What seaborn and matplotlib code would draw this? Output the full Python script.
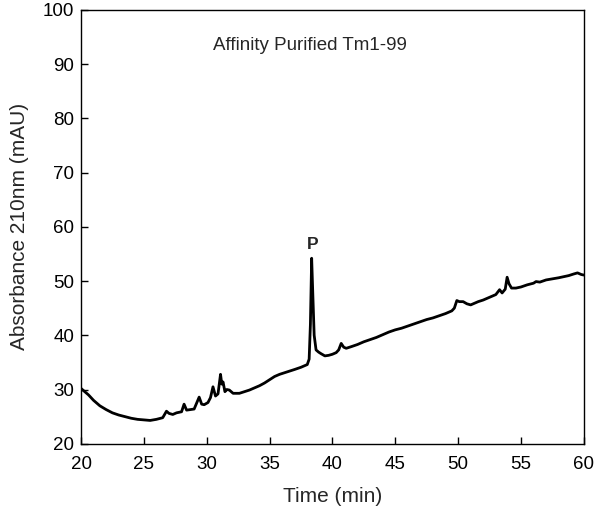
import numpy as np
import matplotlib
matplotlib.use('Agg')
import matplotlib.pyplot as plt
import pandas as pd
import seaborn as sns

# chromatogram trace (time in min, absorbance in mAU)
time_min = [20.0, 20.3, 20.6, 21.0, 21.5, 22.0, 22.5, 23.0, 23.5, 24.0, 24.5, 25.0,
            25.5, 26.0, 26.5, 26.8, 27.0, 27.3, 27.6, 28.0, 28.2, 28.4, 28.7, 29.0,
            29.4, 29.6, 29.8, 30.1, 30.3, 30.5, 30.7, 30.9, 31.1, 31.2, 31.3, 31.45,
            31.6, 31.8, 32.1, 32.6, 33.0, 33.4, 33.8, 34.2, 34.6, 35.0, 35.4, 35.8,
            36.2, 36.6, 37.0, 37.5, 38.0, 38.15, 38.25, 38.35, 38.45, 38.55, 38.7, 38.9,
            39.1, 39.4, 39.7, 40.0, 40.3, 40.5, 40.7, 40.9, 41.1, 41.5, 42.0, 42.5,
            43.0, 43.5, 44.0, 44.5, 45.0, 45.5, 46.0, 46.5, 47.0, 47.5, 48.0, 48.5,
            49.0, 49.5, 49.7, 49.9, 50.1, 50.4, 50.7, 51.0, 51.3, 51.6, 52.0, 52.5,
            53.0, 53.3, 53.5, 53.75, 53.9, 54.05, 54.25, 54.6, 55.0, 55.5, 56.0, 56.2,
            56.5, 57.0, 57.5, 58.0, 58.4, 58.8, 59.2, 59.5, 59.8, 60.0]
absorbance = [30.2, 29.6, 29.0, 28.0, 27.0, 26.3, 25.7, 25.3, 25.0, 24.7, 24.5, 24.4,
              24.3, 24.5, 24.8, 26.0, 25.6, 25.4, 25.7, 25.9, 27.3, 26.2, 26.3, 26.4,
              28.6, 27.3, 27.2, 27.6, 28.5, 30.5, 28.8, 29.2, 32.8, 31.0, 31.4, 29.6,
              30.0, 29.9, 29.3, 29.3, 29.6, 29.9, 30.3, 30.7, 31.2, 31.8, 32.4, 32.8,
              33.1, 33.4, 33.7, 34.1, 34.6, 35.6, 42.0, 54.2, 47.0, 40.0, 37.3, 36.9,
              36.6, 36.2, 36.3, 36.5, 36.8, 37.3, 38.5, 37.8, 37.6, 37.9, 38.3, 38.8,
              39.2, 39.6, 40.1, 40.6, 41.0, 41.3, 41.7, 42.1, 42.5, 42.9, 43.2, 43.6,
              44.0, 44.5, 45.0, 46.4, 46.2, 46.2, 45.8, 45.6, 45.9, 46.2, 46.5, 47.0,
              47.5, 48.4, 47.8, 48.5, 50.7, 49.5, 48.7, 48.7, 48.9, 49.3, 49.6, 49.9,
              49.8, 50.2, 50.4, 50.6, 50.8, 51.0, 51.3, 51.5, 51.2, 51.1]

x_ticks = [20, 25, 30, 35, 40, 45, 50, 55, 60]
y_ticks = [20, 30, 40, 50, 60, 70, 80, 90, 100]

sns.set_style('ticks')
plt.rcParams['font.family'] = ['Liberation Sans', 'DejaVu Sans']

df = pd.DataFrame({'Time': time_min, 'Abs': absorbance})

fig = plt.figure(figsize=(6, 5.16), dpi=100)
ax = fig.add_axes([0.135, 0.14, 0.838, 0.841])
sns.lineplot(x='Time', y='Abs', data=df, ax=ax, color='black', linewidth=2.0,
             sort=False, estimator=None)

ax.set_xlim(20, 60)
ax.set_ylim(20, 100)
ax.set_xticks(x_ticks)
ax.set_yticks(y_ticks)
ax.tick_params(direction='in', length=5, width=1, labelsize=13.5, colors='black')
ax.tick_params(axis='x', pad=9)
ax.tick_params(axis='y', pad=5)
for side in ['top', 'right', 'left', 'bottom']:
    ax.spines[side].set_visible(True)
    ax.spines[side].set_linewidth(1)
    ax.spines[side].set_color('black')

ax.set_xlabel('Time (min)', fontsize=15, labelpad=10)
ax.set_ylabel('Absorbance 210nm (mAU)', fontsize=15, labelpad=10)

ax.text(38.2, 93.5, 'Affinity Purified Tm1-99', ha='center', va='center', fontsize=13.5)
ax.text(38.4, 56.8, 'P', ha='center', va='center', fontsize=12.5, fontweight='bold')

plt.savefig('out.png', dpi=100)
